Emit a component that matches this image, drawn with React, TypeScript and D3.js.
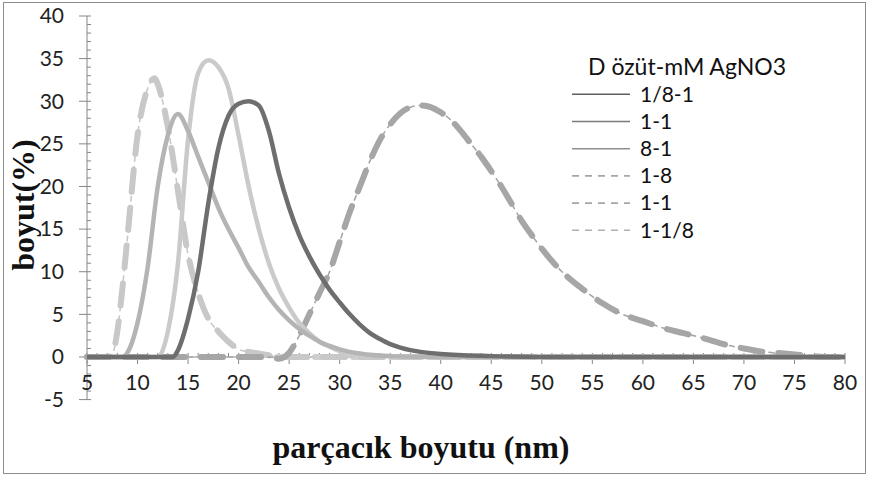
import React from "react";
import * as d3 from "d3";

// series: D özüt - mM AgNO3
const seriesNames = ["1/8-1", "1-1", "8-1", "1-8", "1-1", "1-1/8"];

const xs181 = [5, 10, 13.5, 14, 15, 16, 17, 18, 19, 20, 21, 22, 23, 24, 25, 26, 27, 28, 29, 30, 31, 32, 33, 34, 35, 36, 37, 38, 40, 45, 50, 80];
const ys181 = [0, 0, 0, 0.8, 4.5, 10, 18, 24.5, 28.3, 29.7, 30, 29.5, 26.5, 21.5, 17.5, 14.3, 11.8, 9.7, 7.9, 6.4, 5, 3.8, 2.8, 2.1, 1.5, 1.1, 0.8, 0.6, 0.35, 0.1, 0, 0];

const xs11 = [5, 8.5, 9, 10, 11, 12, 13, 14, 15, 16, 17, 18, 19, 20, 21, 22, 23, 24, 25, 26, 27, 28, 29, 30, 32, 35, 40, 80];
const ys11 = [0, 0, 0.5, 4, 10.5, 20, 26, 28.5, 26.5, 23.5, 20.5, 17.5, 15, 12.8, 10.5, 8.8, 7, 5.5, 4.3, 3.3, 2.5, 1.8, 1.3, 0.9, 0.4, 0.1, 0, 0];

const xs81 = [5, 12, 13, 14, 15, 16, 17, 18, 19, 20, 21, 22, 23, 24, 25, 26, 27, 28, 29, 30, 32, 35, 40, 80];
const ys81 = [0, 0, 3, 11, 25.5, 33.3, 34.8, 34, 31.5, 26, 20, 15, 11, 8, 5.8, 4, 2.8, 1.8, 1.2, 0.7, 0.3, 0.1, 0, 0];

const xs18 = [5, 23, 24, 25, 26, 27, 28, 29, 30, 31, 32, 33, 34, 35, 36, 37, 38, 39, 40, 41, 42, 43, 44, 45, 46, 47, 48, 49, 50, 52, 54, 56, 58, 60, 62, 64, 66, 68, 70, 72, 74, 76, 78, 80];
const ys18 = [0, 0, -0.2, 0.5, 2.5, 5, 7.5, 10, 13.5, 17, 20, 23, 25.5, 27.3, 28.6, 29.3, 29.5, 29.3, 28.7, 27.8, 26.5, 25, 23.5, 21.8, 20, 18, 16, 14.3, 12.7, 10, 8, 6.3, 5, 4.2, 3.4, 2.8, 2.2, 1.5, 1, 0.6, 0.4, 0.2, 0, 0];

const xs11d = [5, 7, 7.5, 8, 8.5, 9, 10, 11, 11.7, 12, 13, 14, 15, 16, 17, 18, 19, 20, 21, 22, 23, 24, 25, 80];
const ys11d = [0, 0, 0.3, 3, 8, 14, 26, 31.5, 32.7, 32, 27, 19.5, 12, 7.5, 4.5, 3, 1.8, 0.9, 0.6, 0.4, 0.2, 0, 0, 0];

const xs118 = [5, 80];
const ys118 = [0, 0];

const xTicks = d3.range(5, 81, 5);
const yTicks = d3.range(-5, 41, 5);

const series = [
  { name: seriesNames[0], x: xs181, y: ys181, color: "#6e6e6e", dashed: false },
  { name: seriesNames[1], x: xs11, y: ys11, color: "#b4b4b4", dashed: false },
  { name: seriesNames[2], x: xs81, y: ys81, color: "#cacaca", dashed: false },
  { name: seriesNames[3], x: xs18, y: ys18, color: "#a6a6a6", dashed: true },
  { name: seriesNames[4], x: xs11d, y: ys11d, color: "#c8c8c8", dashed: true },
  { name: seriesNames[5], x: xs118, y: ys118, color: "#cfcfcf", dashed: true },
];

const legendColors = ["#5f5f5f", "#7a7a7a", "#909090", "#a6a6a6", "#a6a6a6", "#b0b0b0"];

const W = 869;
const H = 478;
const font = "Lato, 'Open Sans', sans-serif";
const serif = "'Liberation Serif', 'DejaVu Serif', serif";

export default function App() {
  const x = d3.scaleLinear().domain([5, 80]).range([87, 845]);
  const y = d3.scaleLinear().domain([-5, 40]).range([399.6, 16]);

  const line = d3
    .line<[number, number]>()
    .x((d) => x(d[0]))
    .y((d) => y(d[1]))
    .curve(d3.curveMonotoneX);

  const minorX = d3.range(5, 81, 1);
  const minorY = d3.range(-5, 41, 1);

  return (
    <svg
      width={W}
      height={H}
      style={{ position: "absolute", left: 0, top: 0, background: "#fff" }}
    >
      <rect x={3.5} y={2.5} width={862} height={471} fill="#fff" stroke="#8c8c8c" />

      {/* y axis */}
      <line x1={87} x2={87} y1={y(40)} y2={y(-5)} stroke="#868686" />
      {minorY.map((v) => (
        <line key={"my" + v} x1={87} x2={91} y1={y(v)} y2={y(v)} stroke="#868686" />
      ))}
      {yTicks.map((v) => (
        <g key={"y" + v}>
          <line x1={79} x2={87} y1={y(v)} y2={y(v)} stroke="#868686" />
          <text
            x={64}
            y={y(v)}
            dy="0.35em"
            textAnchor="end"
            fontFamily={font}
            fontSize={21}
            fill="#222"
          >
            {v}
          </text>
        </g>
      ))}

      {/* x axis */}
      <line x1={x(5)} x2={x(80)} y1={y(0)} y2={y(0)} stroke="#868686" />
      {minorX.map((v) => (
        <line key={"mx" + v} x1={x(v)} x2={x(v)} y1={y(0) - 4} y2={y(0)} stroke="#868686" />
      ))}
      {xTicks.map((v) => (
        <g key={"x" + v}>
          <line x1={x(v)} x2={x(v)} y1={y(0)} y2={y(0) + 7} stroke="#868686" />
          <text
            x={x(v)}
            y={383}
            dy="0.35em"
            textAnchor="middle"
            fontFamily={font}
            fontSize={21}
            fill="#222"
          >
            {v}
          </text>
        </g>
      ))}

      {/* curves, drawn last series first */}
      {[...series].reverse().map((s, i) => {
        const pts = s.x.map((v, j) => [v, s.y[j]] as [number, number]);
        const d = line(pts)!;
        return s.dashed ? (
          <g key={"s" + i}>
            <path d={d} fill="none" stroke={s.color} strokeWidth={1.6} strokeDasharray="6 4" />
            <path
              d={d}
              fill="none"
              stroke={s.color}
              strokeWidth={6}
              strokeDasharray="22 16"
              strokeLinecap="round"
            />
          </g>
        ) : (
          <path key={"s" + i} d={d} fill="none" stroke={s.color} strokeWidth={4.5} />
        );
      })}

      {/* legend */}
      <text x={588} y={67} dy="0.35em" fontFamily={font} fontSize={23} fill="#111">
        D özüt-mM AgNO3
      </text>
      {series.map((s, i) => {
        const ly = 94.3 + i * 27.2;
        return (
          <g key={"l" + i}>
            <line
              x1={572}
              x2={630}
              y1={ly}
              y2={ly}
              stroke={legendColors[i]}
              strokeWidth={1.6}
              strokeDasharray={s.dashed ? "7 6" : undefined}
            />
            <text x={640} y={ly} dy="0.35em" fontFamily={font} fontSize={21} fill="#111">
              {s.name}
            </text>
          </g>
        );
      })}

      {/* axis titles */}
      <text
        transform="translate(34,205) rotate(-90)"
        textAnchor="middle"
        fontFamily={serif}
        fontWeight="bold"
        fontSize={32}
        fill="#111"
      >
        boyut(%)
      </text>
      <text
        x={421}
        y={458}
        textAnchor="middle"
        fontFamily={serif}
        fontWeight="bold"
        fontSize={32}
        fill="#111"
      >
        parçacık boyutu (nm)
      </text>
    </svg>
  );
}
